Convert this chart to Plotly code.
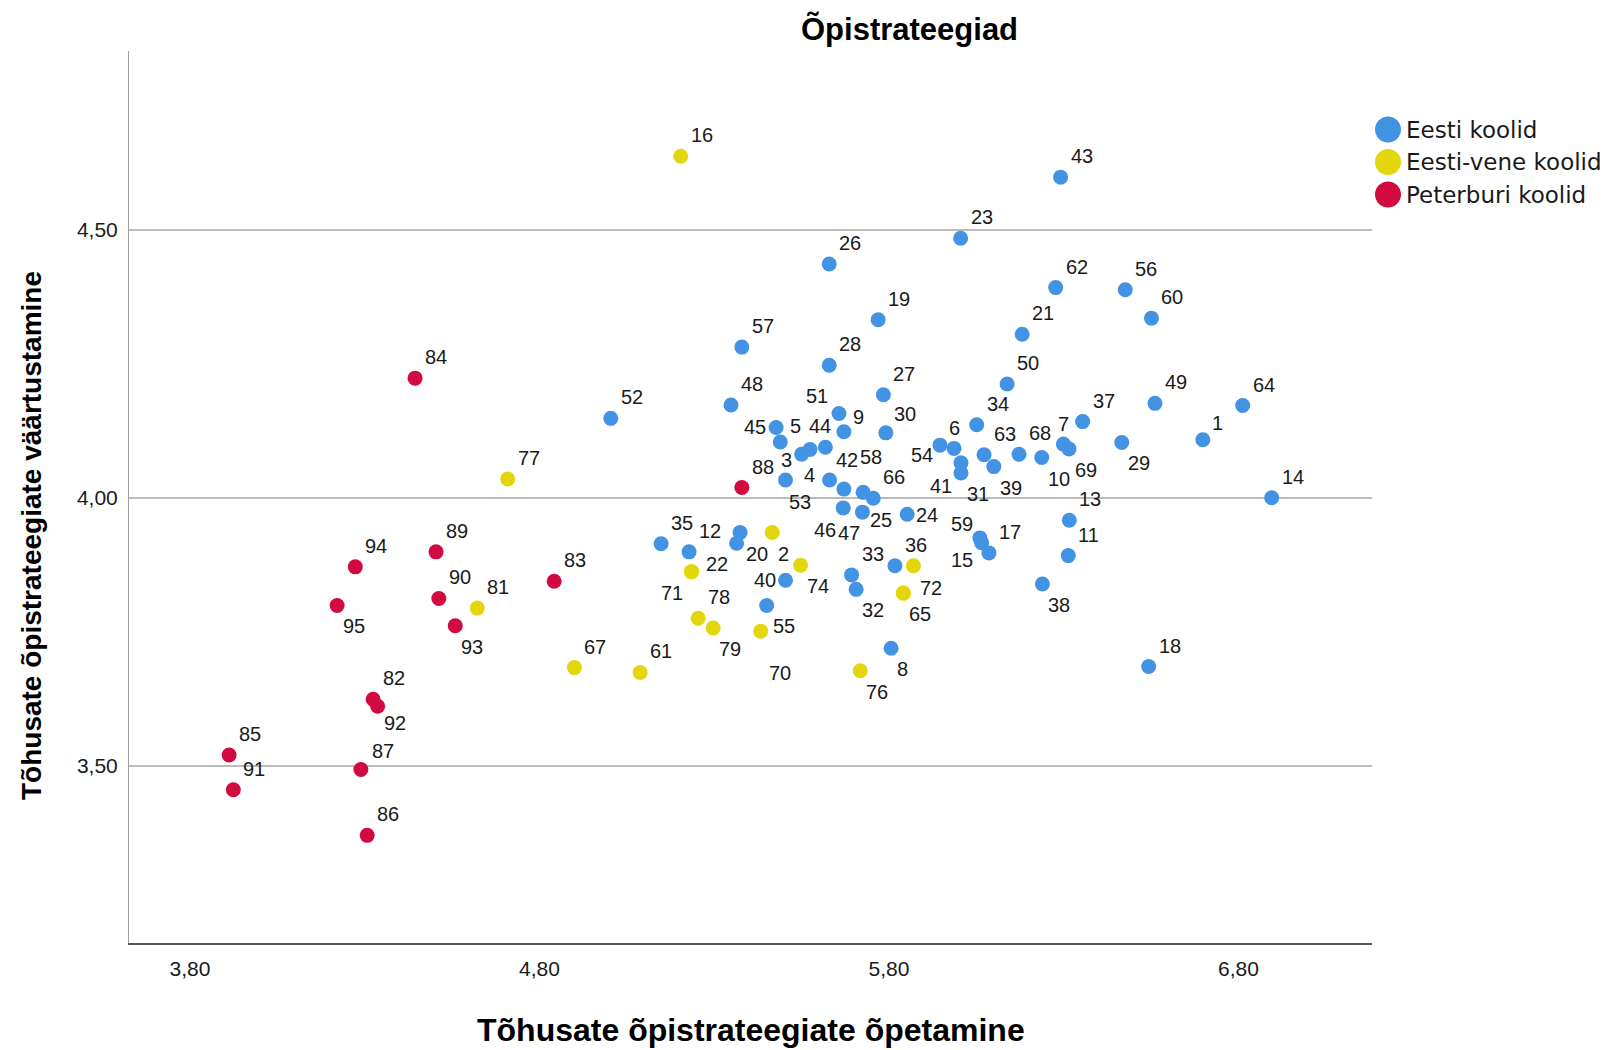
import plotly.graph_objects as go

# ---------------- text ----------------
title_text = "Õpistrateegiad"
x_title = "Tõhusate õpistrateegiate õpetamine"
y_title = "Tõhusate õpistrateegiate väärtustamine"
group_names = ["Eesti koolid", "Eesti-vene koolid", "Peterburi koolid"]

# ---------------- data ----------------
eesti_ids = [1, 3, 4, 5, 6, 7, 8, 9, 10, 11, 12, 13, 14, 15, 17, 18, 19, 20, 21, 23,
             24, 25, 26, 27, 28, 29, 30, 31, 32, 33, 34, 35, 36, 37, 38, 39, 40, 41, 42, 43,
             44, 45, 46, 47, 48, 49, 50, 51, 52, 53, 54, 55, 56, 57, 58, 59, 60, 62, 63, 64,
             66, 68, 69, 75]
eesti_x = [6.698, 5.574, 5.618, 5.489, 5.986, 6.299, 5.806, 5.671, 6.237, 6.313, 5.228, 6.316, 6.895, 6.065, 6.086, 6.543, 5.769, 5.374, 6.181, 6.005,
           5.852, 5.726, 5.629, 5.784, 5.629, 6.466, 5.791, 6.006, 5.706, 5.693, 6.051, 5.148, 5.817, 6.354, 6.239, 6.100, 5.504, 6.006, 5.630, 6.291,
           5.550, 5.477, 5.669, 5.724, 5.348, 6.561, 6.138, 5.657, 5.004, 5.504, 5.946, 5.450, 6.476, 5.379, 5.671, 6.060, 6.551, 6.277, 6.072, 6.812,
           5.755, 6.172, 6.315, 5.364]
eesti_y = [4.108, 4.090, 4.094, 4.104, 4.092, 4.100, 3.719, 4.123, 4.075, 3.892, 3.899, 3.958, 4.000, 3.916, 3.897, 3.685, 4.332, 3.935, 4.305, 4.484,
           3.969, 4.010, 4.436, 4.192, 4.247, 4.103, 4.121, 4.046, 3.829, 3.856, 4.136, 3.914, 3.873, 4.142, 3.839, 4.058, 3.846, 4.065, 4.033, 4.598,
           4.081, 4.131, 3.981, 3.973, 4.173, 4.176, 4.212, 4.157, 4.148, 4.033, 4.098, 3.799, 4.388, 4.281, 4.016, 3.925, 4.335, 4.392, 4.080, 4.172,
           3.999, 4.081, 4.091, 3.915]

vene_ids = [2, 16, 22, 61, 65, 67, 70, 71, 72, 73, 74, 76, 77, 78, 79, 81]
vene_x = [5.466, 5.204, 5.235, 5.088, 5.841, 4.900, 5.433, 5.235, 5.841, 5.870, 5.547, 5.718, 4.709, 5.254, 5.297, 4.622]
vene_y = [3.935, 4.637, 3.862, 3.674, 3.822, 3.683, 3.751, 3.862, 3.822, 3.873, 3.874, 3.677, 4.035, 3.775, 3.757, 3.794]

peterburi_ids = [82, 83, 84, 85, 86, 87, 88, 89, 90, 91, 92, 93, 94, 95]
peterburi_x = [4.324, 4.842, 4.444, 3.912, 4.307, 4.289, 5.379, 4.504, 4.512, 3.924, 4.337, 4.559, 4.273, 4.221]
peterburi_y = [3.624, 3.844, 4.223, 3.520, 3.370, 3.493, 4.019, 3.899, 3.812, 3.455, 3.611, 3.761, 3.871, 3.799]

x_tickvals = [3.8, 4.8, 5.8, 6.8]
x_ticktext = ["3,80", "4,80", "5,80", "6,80"]
y_tickvals = [3.5, 4.0, 4.5]
y_ticktext = ["3,50", "4,00", "4,50"]

# ---------------- styles ----------------
colors = ["#4393E5", "#E3D60C", "#D10A3F"]
FONT = "Liberation Sans, Arial, sans-serif"
TXT = "#1a1a1a"
MARKER_SIZE = 15

# label placement (xanchor, dx px, dy px screen-down); default upper-right
placement_codes = {
    "ur": ("left", 10, -21), "lr": ("left", 6, 21), "ll": ("right", -9, 21),
    "ul": ("right", -11, -18), "l": ("right", -10, 0), "r": ("left", 9, 1),
    "u": ("center", 0, -20),
}
label_pos = {}
for i in [95, 93, 2, 74, 79, 55, 32, 8, 76, 10, 69, 29, 31, 39, 38, 65, 20]:
    label_pos[i] = placement_codes["lr"]
label_pos.update({
    71: placement_codes["ll"], 40: placement_codes["l"], 45: placement_codes["l"],
    6: placement_codes["u"], 7: placement_codes["u"], 51: placement_codes["ul"],
    24: placement_codes["r"],
    15: ("right", -9, 17), 41: ("right", -9, 23),
    22: ("left", 14, -8), 72: ("left", 17, -5), 70: ("left", 8, 42),
    54: ("right", -7, 10), 59: ("right", -7, -14), 3: ("right", -18, 11),
    4: ("right", -10, 28), 44: ("left", 7, -28), 58: ("left", 16, -32),
    25: ("left", 7, 28), 47: ("right", -2, 21), 46: ("right", -7, 22),
    53: ("left", 3, 22), 42: ("left", 6, -20), 5: ("left", 10, -16),
    9: ("left", 9, -15), 30: ("left", 8, -19), 1: ("left", 9, -17),
    87: ("left", 11, -18), 92: ("left", 6, 17),
})
hidden_labels = {73, 75}

fig = go.Figure()
groups = [(eesti_ids, eesti_x, eesti_y), (vene_ids, vene_x, vene_y),
          (peterburi_ids, peterburi_x, peterburi_y)]
annotations = []
for (ids, xs, ys), name, col in zip(groups, group_names, colors):
    fig.add_trace(go.Scatter(
        x=xs, y=ys, mode="markers", name=name, showlegend=False,
        marker=dict(size=MARKER_SIZE, color=col, line=dict(width=0)),
        text=[str(i) for i in ids], hoverinfo="text+x+y",
    ))
    for i, xv, yv in zip(ids, xs, ys):
        if i in hidden_labels:
            continue
        anchor, dx, dy = label_pos.get(i, placement_codes["ur"])
        annotations.append(dict(
            x=xv, y=yv, xref="x", yref="y", text=str(i), showarrow=False,
            xanchor=anchor, yanchor="middle", xshift=dx, yshift=-dy,
            borderpad=0, borderwidth=0,
            font=dict(family=FONT, size=20, color=TXT),
        ))

# titles
annotations.append(dict(text=title_text, x=0.6283, y=1.0247, xref="paper", yref="paper",
                        showarrow=False, xanchor="center", yanchor="middle",
                        font=dict(family=FONT, size=31, color="#000", weight="bold")))
annotations.append(dict(text=x_title, x=0.5008, y=-0.0975, xref="paper", yref="paper",
                        showarrow=False, xanchor="center", yanchor="middle",
                        font=dict(family=FONT, size=32, color="#000", weight="bold")))
annotations.append(dict(text=y_title, x=-0.078, y=0.4563, xref="paper", yref="paper",
                        showarrow=False, xanchor="center", yanchor="middle", textangle=-90,
                        font=dict(family=FONT, size=28, color="#000", weight="bold")))

# custom legend
shapes = []
legend_offsets = [78.5, 111, 143.5]
for name, col, off in zip(group_names, colors, legend_offsets):
    shapes.append(dict(type="circle", xref="paper", yref="paper",
                       xsizemode="pixel", ysizemode="pixel", xanchor=1, yanchor=1,
                       x0=3, x1=29, y0=-off - 13, y1=-off + 13,
                       fillcolor=col, line=dict(width=0)))
    annotations.append(dict(text=name, x=1, y=1, xref="paper", yref="paper",
                            showarrow=False, xanchor="left", yanchor="middle",
                            xshift=32, yshift=-off,
                            font=dict(family="DejaVu Sans", size=23, color=TXT)))

# margins compensate for the page's default 8px body offset
fig.update_layout(
    width=1611, height=1050,
    margin=dict(l=121, r=247, t=43, b=115),
    paper_bgcolor="white", plot_bgcolor="white",
    annotations=annotations, shapes=shapes,
    showlegend=False,
    xaxis=dict(range=[3.6255, 7.182], tickvals=x_tickvals, ticktext=x_ticktext,
               showgrid=False, zeroline=False, showline=True, linecolor="#555555",
               linewidth=2, ticks="", ticklabelstandoff=6,
               tickfont=dict(family=FONT, size=21, color=TXT)),
    yaxis=dict(range=[3.1692, 4.8334], tickvals=y_tickvals, ticktext=y_ticktext,
               showgrid=True, gridcolor="#bbbbbb", gridwidth=1.5, zeroline=False,
               showline=True, linecolor="#a0a0a0", linewidth=1, ticks="",
               ticklabelstandoff=6,
               tickfont=dict(family=FONT, size=21, color=TXT)),
)

fig.write_html("out.html")
